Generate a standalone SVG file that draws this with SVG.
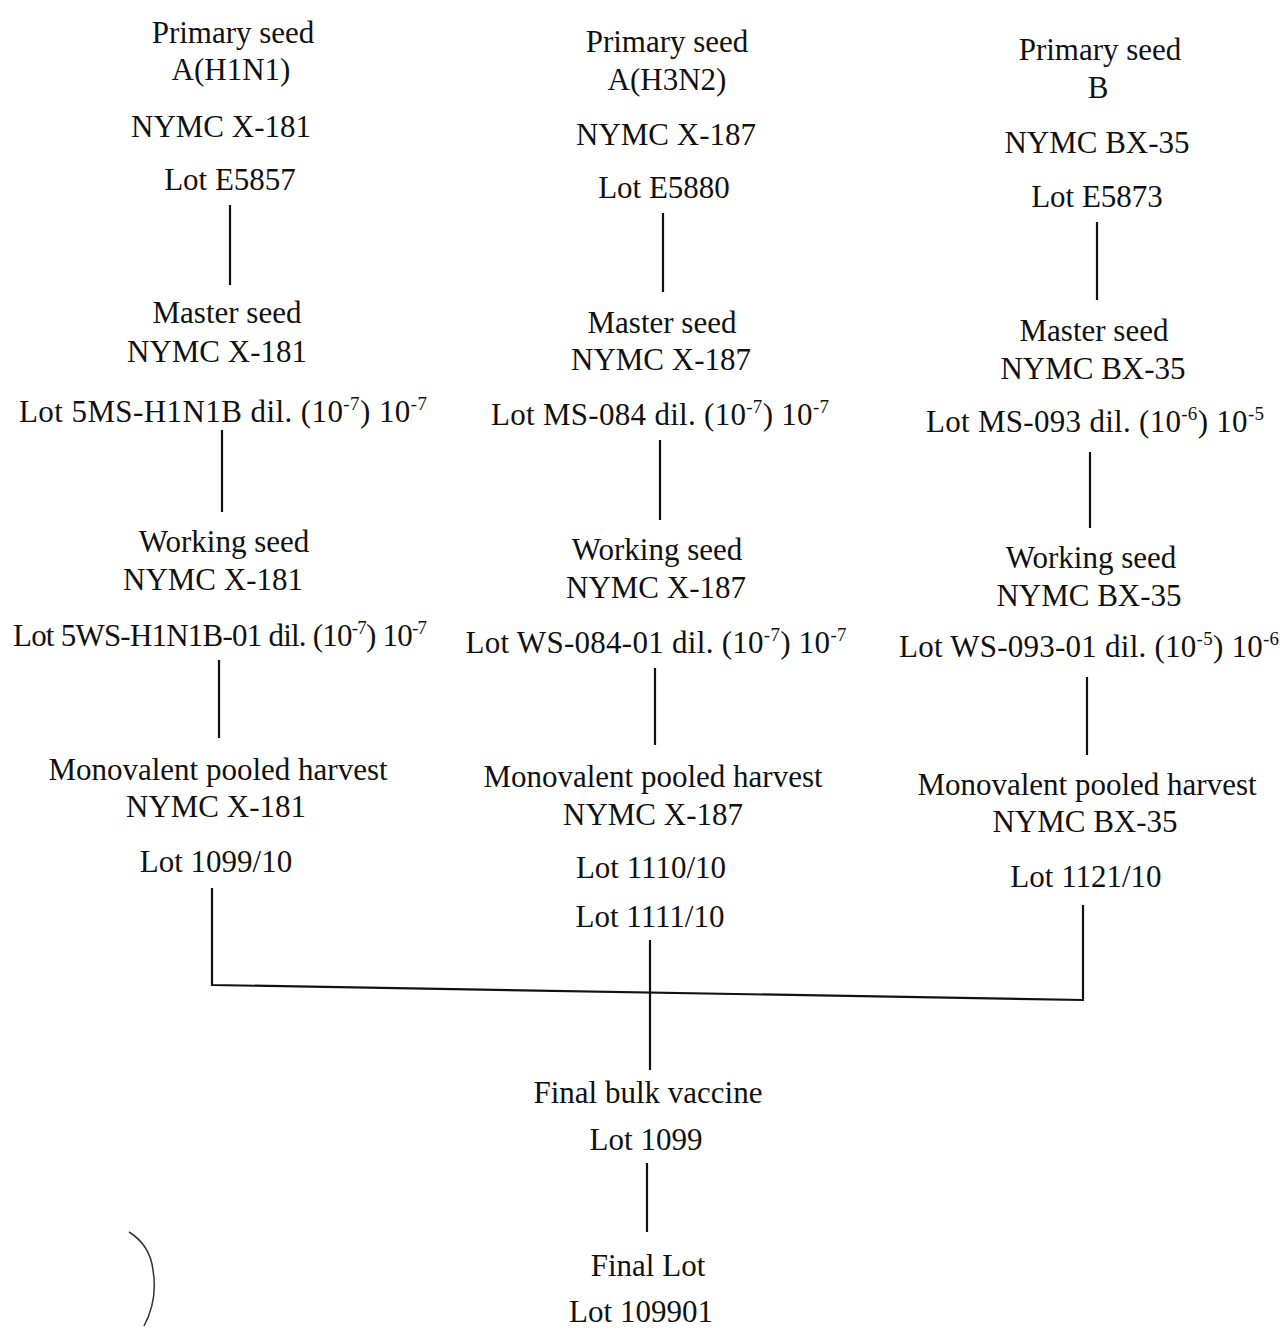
<svg xmlns="http://www.w3.org/2000/svg" width="1285" height="1331" viewBox="0 0 1285 1331">
<style>
text{font-family:"Liberation Serif","Times New Roman",serif;font-size:31px;fill:#111;text-anchor:middle}
.sup{font-size:19px}
.c{stroke:#111;stroke-width:2.2;fill:none}
</style>
<rect width="1285" height="1331" fill="#fff"/>
<g id="n-h1n1-primary">
<text x="233" y="43">Primary seed</text>
<text x="231" y="80">A(H1N1)</text>
<text x="221" y="137">NYMC X-181</text>
<text x="230" y="190">Lot E5857</text>
</g>
<g id="n-h1n1-master">
<text x="227" y="323">Master seed</text>
<text x="217" y="362">NYMC X-181</text>
<text x="223" y="422" textLength="408" lengthAdjust="spacing">Lot 5MS-H1N1B dil. (10<tspan class="sup" dy="-12">-7</tspan><tspan dy="12">) 10</tspan><tspan class="sup" dy="-12">-7</tspan></text>
</g>
<g id="n-h1n1-working">
<text x="224" y="552">Working seed</text>
<text x="213" y="590">NYMC X-181</text>
<text x="220" y="646" textLength="414" lengthAdjust="spacing">Lot 5WS-H1N1B-01 dil. (10<tspan class="sup" dy="-12">-7</tspan><tspan dy="12">) 10</tspan><tspan class="sup" dy="-12">-7</tspan></text>
</g>
<g id="n-h1n1-harvest">
<text x="218" y="780">Monovalent pooled harvest</text>
<text x="216" y="817">NYMC X-181</text>
<text x="216" y="872">Lot 1099/10</text>
</g>
<g id="n-h3n2-primary">
<text x="667" y="52">Primary seed</text>
<text x="667" y="90">A(H3N2)</text>
<text x="666" y="145">NYMC X-187</text>
<text x="664" y="198">Lot E5880</text>
</g>
<g id="n-h3n2-master">
<text x="662" y="333">Master seed</text>
<text x="661" y="370">NYMC X-187</text>
<text x="660" y="425" textLength="338" lengthAdjust="spacing">Lot MS-084 dil. (10<tspan class="sup" dy="-12">-7</tspan><tspan dy="12">) 10</tspan><tspan class="sup" dy="-12">-7</tspan></text>
</g>
<g id="n-h3n2-working">
<text x="657" y="560">Working seed</text>
<text x="656" y="598">NYMC X-187</text>
<text x="656" y="653" textLength="381" lengthAdjust="spacing">Lot WS-084-01 dil. (10<tspan class="sup" dy="-12">-7</tspan><tspan dy="12">) 10</tspan><tspan class="sup" dy="-12">-7</tspan></text>
</g>
<g id="n-h3n2-harvest">
<text x="653" y="787">Monovalent pooled harvest</text>
<text x="653" y="825">NYMC X-187</text>
<text x="651" y="878">Lot 1110/10</text>
<text x="650" y="927">Lot 1111/10</text>
</g>
<g id="n-b-primary">
<text x="1100" y="60">Primary seed</text>
<text x="1098" y="98">B</text>
<text x="1097" y="153">NYMC BX-35</text>
<text x="1097" y="207">Lot E5873</text>
</g>
<g id="n-b-master">
<text x="1094" y="341">Master seed</text>
<text x="1093" y="379">NYMC BX-35</text>
<text x="1095" y="432" textLength="338" lengthAdjust="spacing">Lot MS-093 dil. (10<tspan class="sup" dy="-12">-6</tspan><tspan dy="12">) 10</tspan><tspan class="sup" dy="-12">-5</tspan></text>
</g>
<g id="n-b-working">
<text x="1091" y="568">Working seed</text>
<text x="1089" y="606">NYMC BX-35</text>
<text x="1089" y="657" textLength="380" lengthAdjust="spacing">Lot WS-093-01 dil. (10<tspan class="sup" dy="-12">-5</tspan><tspan dy="12">) 10</tspan><tspan class="sup" dy="-12">-6</tspan></text>
</g>
<g id="n-b-harvest">
<text x="1087" y="795">Monovalent pooled harvest</text>
<text x="1085" y="832">NYMC BX-35</text>
<text x="1086" y="887">Lot 1121/10</text>
</g>
<g id="n-final-bulk">
<text x="648" y="1103">Final bulk vaccine</text>
<text x="646" y="1150">Lot 1099</text>
</g>
<g id="n-final-lot">
<text x="648" y="1276">Final Lot</text>
<text x="641" y="1322">Lot 109901</text>
</g>
<g id="connectors" class="c">
<line class="c" x1="230" y1="205" x2="230" y2="285"/>
<line class="c" x1="222" y1="430" x2="222" y2="512"/>
<line class="c" x1="219" y1="660" x2="219" y2="738"/>
<line class="c" x1="663" y1="213" x2="663" y2="292"/>
<line class="c" x1="660" y1="440" x2="660" y2="520"/>
<line class="c" x1="655" y1="668" x2="655" y2="745"/>
<line class="c" x1="1097" y1="222" x2="1097" y2="300"/>
<line class="c" x1="1090" y1="452" x2="1090" y2="528"/>
<line class="c" x1="1087" y1="677" x2="1087" y2="755"/>
<polyline class="c" points="212,888 212,985 1083,1000 1083,905"/>
<line class="c" x1="650" y1="940" x2="650" y2="1070"/>
<line class="c" x1="647" y1="1163" x2="647" y2="1232"/>
</g>
<path d="M129,1232 Q150,1245 153,1270 Q158,1300 144,1326" stroke="#333" stroke-width="1.5" fill="none"/>
</svg>
